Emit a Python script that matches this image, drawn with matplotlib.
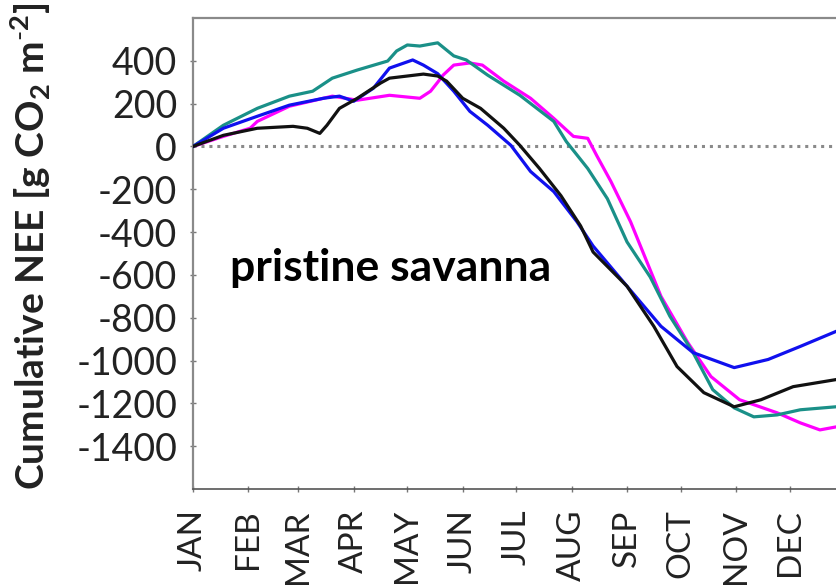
import matplotlib
matplotlib.use("Agg")
import matplotlib.pyplot as plt

months = ["JAN", "FEB", "MAR", "APR", "MAY", "JUN", "JUL", "AUG", "SEP", "OCT", "NOV", "DEC"]
month_start_days = [0, 31, 59, 90, 120, 151, 181, 212, 243, 273, 304, 334]
y_ticks = [-1400, -1200, -1000, -800, -600, -400, -200, 0, 200, 400]

teal_days = [0, 17, 36, 54, 67, 78, 92, 109, 114, 120, 127, 137, 146, 153, 165, 183, 202, 209, 221, 232, 243, 256, 267, 280, 291, 303, 314, 327, 340, 360]
teal_vals = [0, 99, 178, 235, 258, 319, 357, 399, 446, 474, 469, 484, 423, 404, 333, 239, 117, 23, -103, -244, -446, -610, -793, -963, -1136, -1221, -1263, -1254, -1230, -1216]

blue_days = [0, 17, 36, 54, 73, 82, 90, 101, 110, 123, 129, 137, 146, 155, 165, 178, 189, 202, 215, 224, 243, 262, 280, 303, 322, 340, 360]
blue_vals = [0, 85, 141, 193, 225, 235, 211, 272, 366, 404, 380, 340, 258, 164, 99, 5, -117, -211, -352, -465, -653, -840, -963, -1033, -995, -934, -864]

black_days = [0, 17, 36, 56, 64, 71, 75, 82, 92, 105, 110, 129, 137, 142, 151, 161, 174, 183, 194, 206, 217, 224, 243, 258, 271, 286, 303, 318, 336, 360]
black_vals = [0, 52, 85, 94, 85, 61, 99, 178, 225, 296, 319, 338, 329, 305, 225, 178, 85, 5, -103, -230, -371, -493, -653, -840, -1028, -1150, -1216, -1183, -1122, -1089]

magenta_days = [0, 17, 32, 36, 54, 73, 78, 92, 110, 127, 133, 137, 140, 146, 155, 162, 174, 189, 202, 213, 221, 226, 234, 245, 262, 277, 290, 306, 327, 340, 351, 360]
magenta_vals = [0, 47, 85, 117, 188, 225, 235, 216, 239, 225, 258, 300, 333, 380, 390, 380, 305, 225, 131, 47, 38, -42, -164, -352, -700, -916, -1075, -1183, -1244, -1291, -1324, -1310]

plt.rcParams['font.family'] = ['Lato', 'DejaVu Sans']
plt.rcParams['mathtext.fontset'] = 'custom'
plt.rcParams['mathtext.rm'] = 'Lato'
plt.rcParams['mathtext.bf'] = 'Lato:bold'

fig = plt.figure(figsize=(8.36, 5.86), dpi=100)
ax = fig.add_axes([193/836, 1 - 489/586, (836 - 193)/836, (489 - 18)/586])

ax.axhline(0, color='#8a8a8a', lw=2.2, linestyle=(0, (1, 1.6)), zorder=1)
lw = 2.3
ax.plot(teal_days, teal_vals, color='#1a9088', lw=lw, zorder=3)
ax.plot(magenta_days, magenta_vals, color='#ff00ff', lw=lw, zorder=2)
ax.plot(black_days, black_vals, color='#111111', lw=lw, zorder=4)
ax.plot(blue_days, blue_vals, color='#1010ee', lw=lw, zorder=3)

ax.set_xlim(0, 360)
ax.set_ylim(-1600, 600)
ax.set_yticks(y_ticks)
ax.set_yticklabels([str(v) for v in y_ticks], fontsize=27, color='#222222')
ax.set_xticks(month_start_days)
ax.set_xticklabels(months, rotation=90, fontsize=24, color='#222222')
ax.tick_params(axis='y', direction='inout', length=5, width=1, color='#777777', pad=9)
ax.tick_params(axis='x', direction='inout', length=5, width=1, color='#777777', pad=12)

for s in ['left', 'top']:
    ax.spines[s].set_color('#8a8a8a')
    ax.spines[s].set_linewidth(1.6)
ax.spines['bottom'].set_color('#555555')
ax.spines['bottom'].set_linewidth(1.2)
ax.spines['right'].set_visible(False)

ax.text(20.7, -629, "pristine savanna", fontsize=32, fontweight='bold', ha='left', va='baseline', color='black')

fig.text(31/836, 1 - 490/586, r"Cumulative NEE [g CO$_\mathbf{2}$ m$^{\mathbf{\text{-}2}}$]",
         rotation=90, ha='center', va='bottom', fontsize=28, fontweight='bold', color='#222222')

fig.savefig("out.png", dpi=100)
